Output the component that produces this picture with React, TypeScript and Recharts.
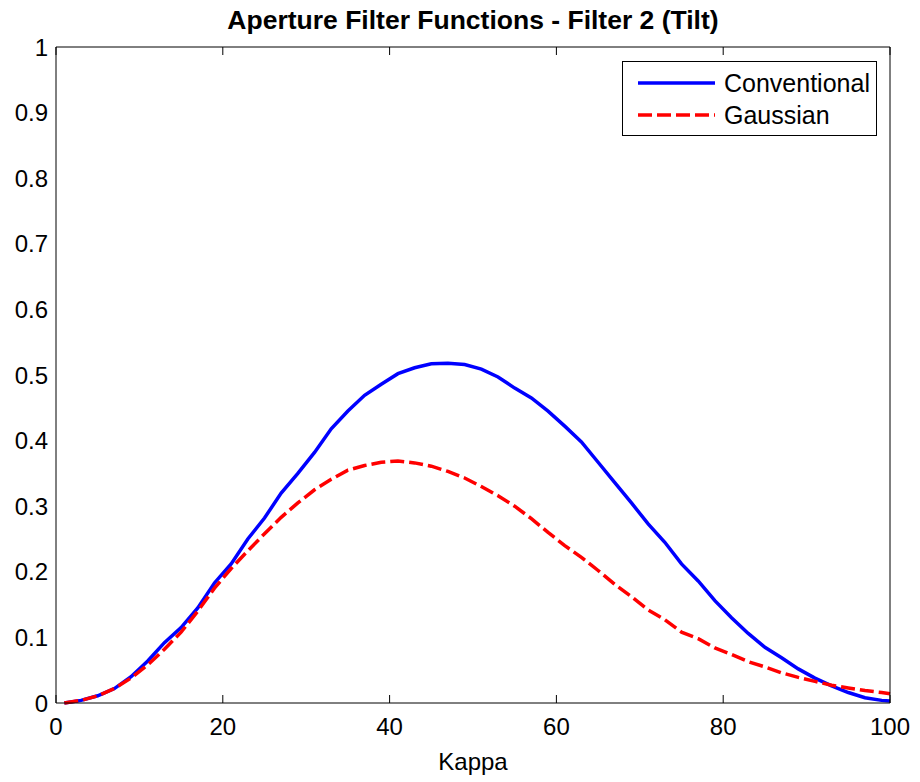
import React from 'react';
import { LineChart, Line, XAxis, YAxis, Legend } from 'recharts';

const kappa = [
    1, 3, 5, 7, 9, 11, 13, 15, 17, 19, 21, 23, 25, 27, 29, 31, 33, 35, 37, 39, 41, 43, 45, 47, 49,
    51, 53, 55, 57, 59, 61, 63, 65, 67, 69, 71, 73, 75, 77, 79, 81, 83, 85, 87, 89, 91, 93, 95, 97, 99, 100,
];

const conventional = [
    0.0, 0.004, 0.011, 0.022, 0.04, 0.064, 0.092, 0.115, 0.145, 0.183, 0.212, 0.25, 0.282, 0.32, 0.35,
    0.382, 0.418, 0.445, 0.469, 0.486, 0.502, 0.511, 0.517, 0.518, 0.516, 0.509, 0.497, 0.48, 0.465,
    0.445, 0.422, 0.398, 0.367, 0.336, 0.305, 0.273, 0.245, 0.212, 0.186, 0.156, 0.13, 0.106, 0.085,
    0.069, 0.052, 0.038, 0.026, 0.016, 0.008, 0.004, 0.003,
];

const gaussian = [
    0.0, 0.004, 0.011, 0.022, 0.038, 0.058, 0.082, 0.108, 0.14, 0.175, 0.205, 0.232, 0.258, 0.283,
    0.305, 0.325, 0.341, 0.355, 0.362, 0.367, 0.369, 0.366, 0.361, 0.353, 0.343, 0.33, 0.316, 0.3,
    0.281, 0.26, 0.24, 0.222, 0.202, 0.181, 0.162, 0.142, 0.127, 0.108, 0.098, 0.084, 0.074, 0.063,
    0.055, 0.046, 0.039, 0.033, 0.027, 0.023, 0.019, 0.016, 0.014,
];

const xTicks = [0, 20, 40, 60, 80, 100];
const yTicks = [0, 0.1, 0.2, 0.3, 0.4, 0.5, 0.6, 0.7, 0.8, 0.9, 1];

const series = [
    { key: 'conventional', name: 'Conventional', color: '#0000ff', dash: undefined },
    { key: 'gaussian', name: 'Gaussian', color: '#ff0000', dash: '14 5' },
];

const data = kappa.map((k, i) => ({ k, conventional: conventional[i], gaussian: gaussian[i] }));

const FONT = '"Liberation Sans", Arial, Helvetica, sans-serif';
const tickStyle = { fill: '#000', fontSize: 24, fontFamily: FONT };
const blank = () => '';

const LegendBox = () => (
    <div
        style={{
            width: 253,
            height: 73,
            border: '1px solid #000',
            background: '#fff',
            fontFamily: FONT,
            fontSize: 25,
            color: '#000',
            boxSizing: 'content-box',
        }}
    >
        {series.map((s, i) => (
            <div
                key={s.key}
                style={{ display: 'flex', alignItems: 'center', height: 32, marginTop: i === 0 ? 5 : 0 }}
            >
                <svg width={101} height={10} style={{ flex: 'none' }}>
                    <line
                        x1={15}
                        x2={92}
                        y1={5}
                        y2={5}
                        stroke={s.color}
                        strokeWidth={3.5}
                        strokeDasharray={s.dash}
                    />
                </svg>
                <span style={{ lineHeight: '32px' }}>{s.name}</span>
            </div>
        ))}
    </div>
);

export default function App() {
    return (
        <div style={{ position: 'absolute', left: 0, top: 0, width: 920, height: 782, background: '#fff' }}>
            <div
                style={{
                    position: 'absolute',
                    left: 56,
                    width: 834,
                    top: 7,
                    textAlign: 'center',
                    fontFamily: FONT,
                    fontWeight: 'bold',
                    fontSize: 26.5,
                    lineHeight: '26px',
                    color: '#000',
                }}
            >
                Aperture Filter Functions - Filter 2 (Tilt)
            </div>
            <LineChart width={920} height={782} data={data} margin={{ top: 47, right: 30, bottom: 0, left: 0 }}>
                {/* labels only */}
                <XAxis
                    xAxisId="b"
                    dataKey="k"
                    type="number"
                    domain={[0, 100]}
                    ticks={xTicks}
                    interval={0}
                    height={79}
                    axisLine={false}
                    tickLine={false}
                    tickSize={0}
                    tickMargin={15}
                    tick={tickStyle}
                    label={{ value: 'Kappa', position: 'insideBottom', offset: 12, fill: '#000', fontSize: 24, fontFamily: FONT }}
                />
                <YAxis
                    yAxisId="l"
                    type="number"
                    domain={[0, 1]}
                    ticks={yTicks}
                    interval={0}
                    width={56}
                    axisLine={false}
                    tickLine={false}
                    tickSize={0}
                    tickMargin={8}
                    tick={tickStyle}
                />
                {/* box with inward ticks */}
                <XAxis xAxisId="bm" dataKey="k" type="number" domain={[0, 100]} ticks={xTicks} interval={0}
                    mirror stroke="#000" tickSize={8} tickFormatter={blank} />
                <XAxis xAxisId="tm" dataKey="k" type="number" orientation="top" domain={[0, 100]} ticks={xTicks}
                    interval={0} mirror stroke="#000" tickSize={8} tickFormatter={blank} />
                <YAxis yAxisId="lm" type="number" domain={[0, 1]} ticks={yTicks} interval={0}
                    mirror stroke="#000" tickSize={8} tickFormatter={blank} />
                <YAxis yAxisId="rm" type="number" orientation="right" domain={[0, 1]} ticks={yTicks} interval={0}
                    mirror stroke="#000" tickSize={8} tickFormatter={blank} />
                <Legend
                    layout="horizontal"
                    align="center"
                    verticalAlign="middle"
                    content={() => <LegendBox />}
                    wrapperStyle={{ position: 'absolute', left: 622, top: 61, width: 255, height: 75 }}
                />
                {series.map((s) => (
                    <Line
                        key={s.key}
                        xAxisId="b"
                        yAxisId="l"
                        type="linear"
                        dataKey={s.key}
                        name={s.name}
                        stroke={s.color}
                        strokeWidth={3.5}
                        strokeDasharray={s.dash}
                        dot={false}
                        activeDot={false}
                        isAnimationActive={false}
                    />
                ))}
            </LineChart>
        </div>
    );
}
